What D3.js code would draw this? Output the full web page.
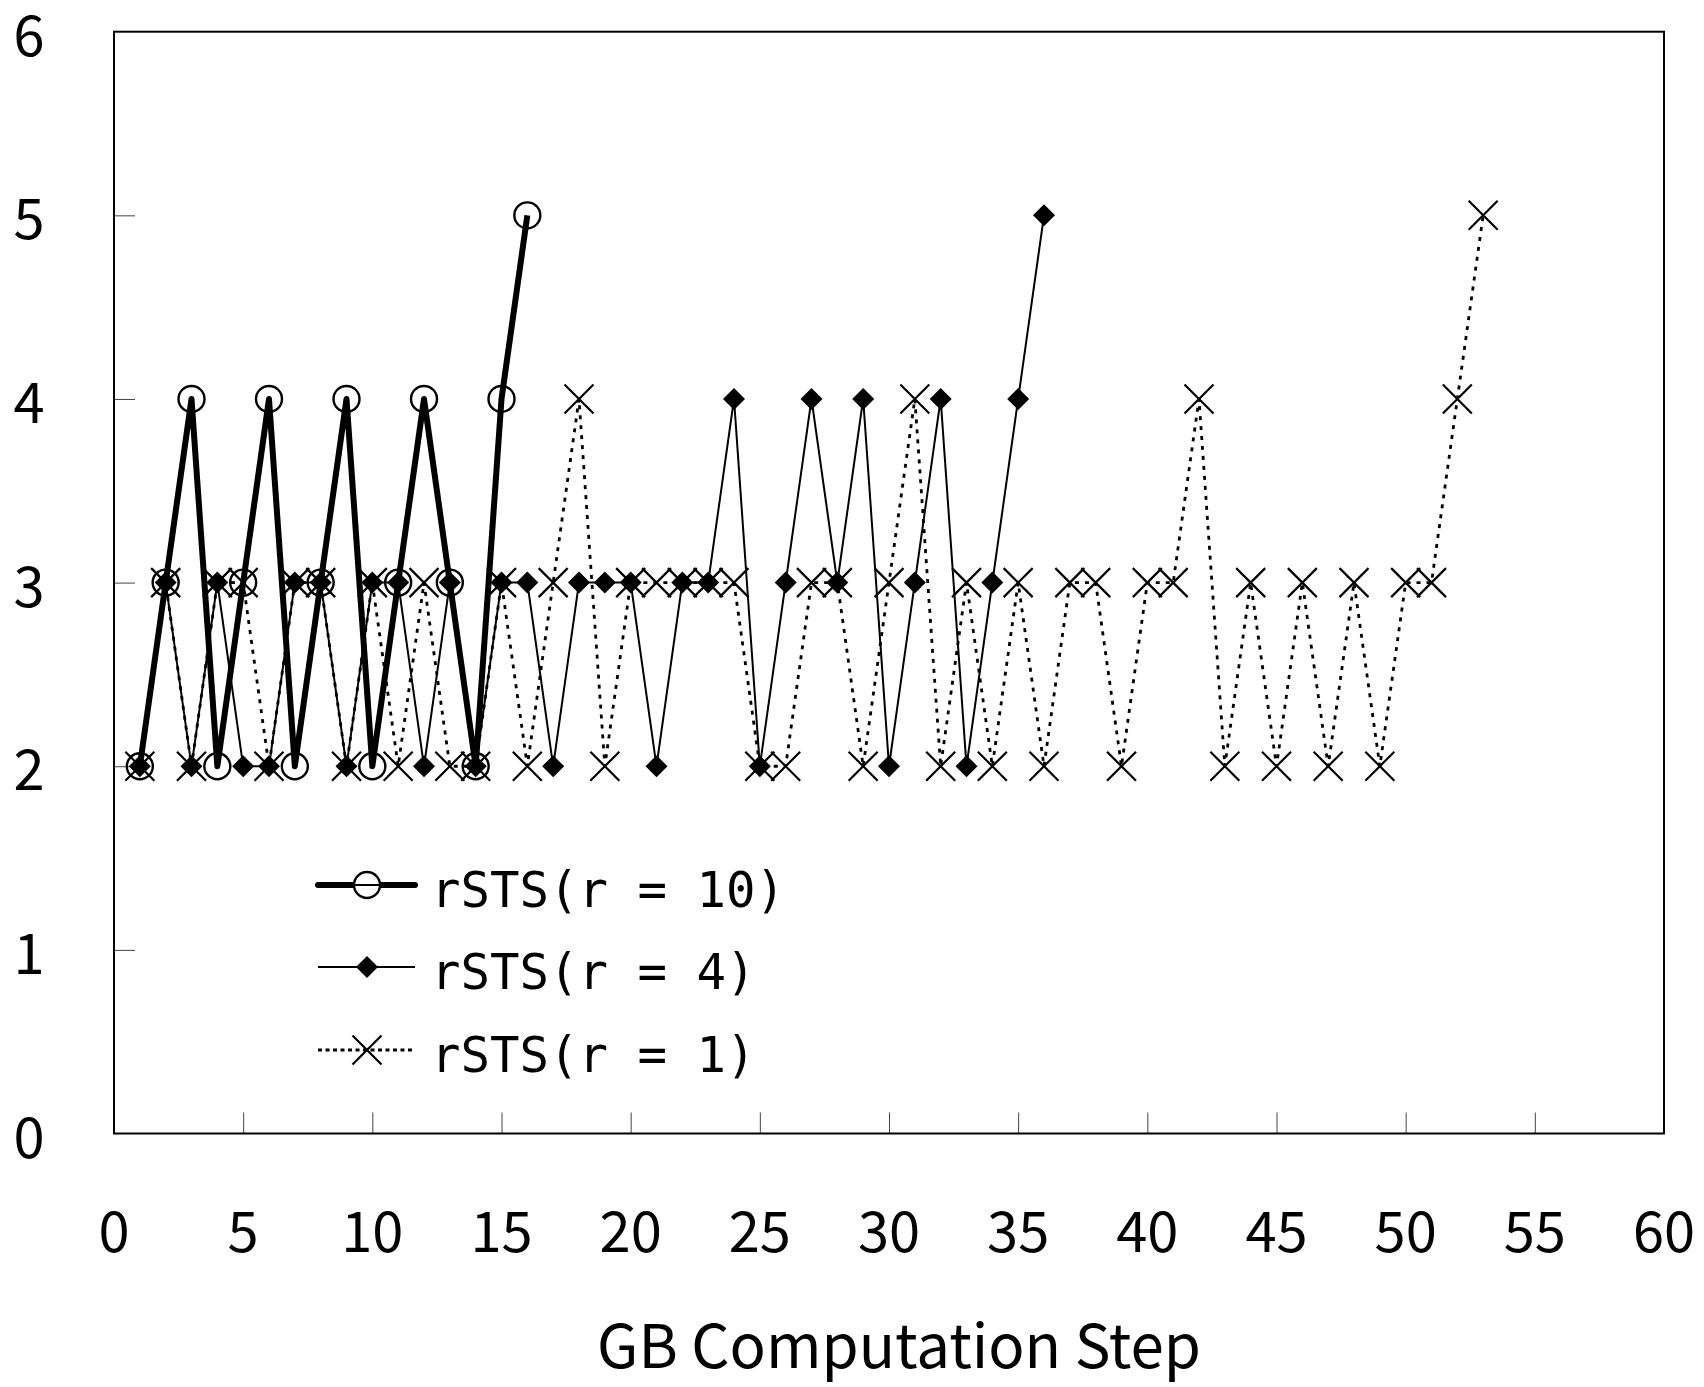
<!DOCTYPE html>
<html>
<head>
<meta charset="utf-8">
<script src="https://cdn.jsdelivr.net/npm/d3@7"></script>
<style>
  html, body { margin: 0; padding: 0; background: #fff; }
  svg { display: block; }
  text { font-family: "Noto Sans CJK JP", "Noto Sans", sans-serif; fill: #000; }
  .legend-label { font-family: "DejaVu Sans Mono", "Liberation Mono", monospace; }
</style>
</head>
<body>
<svg id="chart" width="1704" height="1387"></svg>
<script>
// Degree reached at each GB computation step, per rSTS setting
const seriesNames = ["rSTS(r = 10)", "rSTS(r = 4)", "rSTS(r = 1)"];
const r10 = [2, 3, 4, 2, 3, 4, 2, 3, 4, 2, 3, 4, 3, 2, 4, 5];
const r4 = [2, 3, 2, 3, 2, 2, 3, 3, 2, 3, 3, 2, 3, 2, 3, 3, 2, 3, 3, 3,
            2, 3, 3, 4, 2, 3, 4, 3, 4, 2, 3, 4, 2, 3, 4, 5];
const r1 = [2, 3, 2, 3, 3, 2, 3, 3, 2, 3, 2, 3, 2, 2, 3, 2, 3, 4, 2, 3,
            3, 3, 3, 3, 2, 2, 3, 3, 2, 3, 4, 2, 3, 2, 3, 2, 3, 3, 2, 3,
            3, 4, 2, 3, 2, 3, 2, 3, 2, 3, 3, 4, 5];
const xTicks = [0, 5, 10, 15, 20, 25, 30, 35, 40, 45, 50, 55, 60];
const yTicks = [0, 1, 2, 3, 4, 5, 6];
const xTitle = "GB Computation Step";

const svg = d3.select("#chart");
const plotL = 114, plotR = 1664, plotT = 31.7, plotB = 1133.5;

const x = d3.scaleLinear().domain([0, 60]).range([plotL, plotR]);
const y = d3.scaleLinear().domain([0, 6]).range([plotB, plotT]);

// Inward tick marks on the bottom and left edges
const gx = svg.append("g").attr("transform", `translate(0,${plotB})`)
  .call(d3.axisBottom(x).tickValues(xTicks.slice(1, -1)).tickSizeInner(-21).tickSizeOuter(0).tickFormat(""));
gx.select(".domain").remove();
gx.selectAll(".tick line").attr("stroke", "#444").attr("stroke-width", 1);

const gy = svg.append("g").attr("transform", `translate(${plotL},0)`)
  .call(d3.axisLeft(y).tickValues(yTicks.slice(1, -1)).tickSizeInner(-21).tickSizeOuter(0).tickFormat(""));
gy.select(".domain").remove();
gy.selectAll(".tick line").attr("stroke", "#444").attr("stroke-width", 1);

// Tick labels
svg.append("g").selectAll("text").data(xTicks).join("text")
  .attr("x", d => x(d)).attr("y", 1252)
  .attr("text-anchor", "middle").attr("font-size", 56)
  .text(d => d);

svg.append("g").selectAll("text").data(yTicks).join("text")
  .attr("x", 29).attr("y", d => y(d) + 24)
  .attr("text-anchor", "middle").attr("font-size", 56)
  .text(d => d);

svg.append("text")
  .attr("x", 899).attr("y", 1368)
  .attr("text-anchor", "middle").attr("font-size", 60)
  .text(xTitle);

// Plot frame
svg.append("rect")
  .attr("x", plotL).attr("y", plotT)
  .attr("width", plotR - plotL).attr("height", plotB - plotT)
  .attr("fill", "none").attr("stroke", "#000").attr("stroke-width", 2);

const styles = [
  { data: r10, width: 6, dash: null, marker: "circle" },
  { data: r4, width: 2, dash: null, marker: "diamond" },
  { data: r1, width: 2.8, dash: "4,6", marker: "cross" }
];

const line = d3.line().x(d => x(d[0])).y(d => y(d[1]));
const pts = arr => arr.map((v, i) => [i + 1, v]);

function drawMarker(g, kind) {
  if (kind === "circle") {
    g.append("circle").attr("r", 13).attr("fill", "none")
      .attr("stroke", "#000").attr("stroke-width", 2.4);
  } else if (kind === "diamond") {
    g.append("path").attr("d", "M0,-11L11,0L0,11L-11,0Z").attr("fill", "#000");
  } else {
    g.append("path").attr("d", "M-14.5,-14.5L14.5,14.5M-14.5,14.5L14.5,-14.5")
      .attr("stroke", "#000").attr("stroke-width", 2.2).attr("fill", "none");
  }
}

// Lines, drawn from the sparsest style up
[2, 1, 0].forEach(k => {
  const s = styles[k];
  svg.append("path").datum(pts(s.data))
    .attr("d", line).attr("fill", "none").attr("stroke", "#000")
    .attr("stroke-width", s.width)
    .attr("stroke-linejoin", "round")
    .attr("stroke-dasharray", s.dash);
});

// Markers
[2, 1, 0].forEach(k => {
  const s = styles[k];
  svg.append("g").selectAll("g").data(pts(s.data)).join("g")
    .attr("transform", d => `translate(${x(d[0])},${y(d[1])})`)
    .each(function () { drawMarker(d3.select(this), s.marker); });
});

// Legend
const legend = svg.append("g");
const rowsY = [885, 967, 1050];
styles.forEach((s, i) => {
  legend.append("line")
    .attr("x1", 318).attr("x2", 415).attr("y1", rowsY[i]).attr("y2", rowsY[i])
    .attr("stroke", "#000").attr("stroke-width", s.width)
    .attr("stroke-linecap", i === 0 ? "round" : "butt")
    .attr("stroke-dasharray", s.dash ? "4,3.5" : null);
  const m = legend.append("g").attr("transform", `translate(367,${rowsY[i]})`);
  if (s.marker === "circle") {
    m.append("circle").attr("r", 13).attr("fill", "#fff")
      .attr("stroke", "#000").attr("stroke-width", 2.4);
    m.append("line").attr("x1", -13).attr("x2", 13).attr("stroke", "#000").attr("stroke-width", 2);
  } else {
    drawMarker(m, s.marker);
  }
  legend.append("text")
    .attr("class", "legend-label")
    .attr("x", 431).attr("y", rowsY[i] + 22)
    .attr("font-size", 49)
    .text(seriesNames[i]);
});
</script>
</body>
</html>
